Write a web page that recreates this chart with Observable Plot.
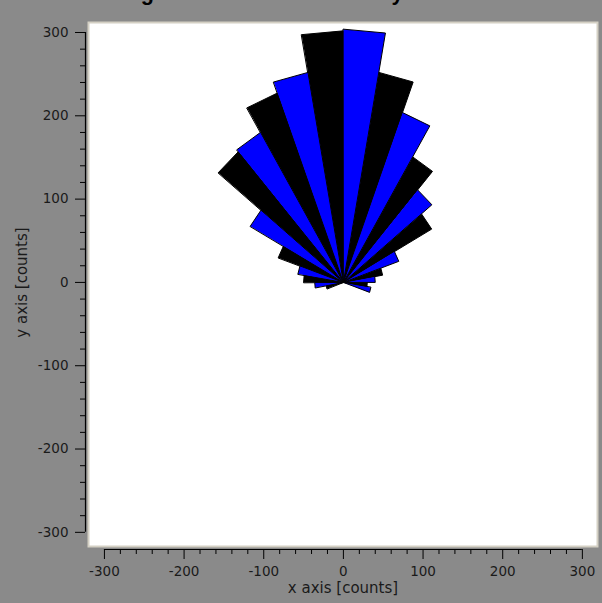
<!DOCTYPE html>
<html>
<head>
<meta charset="utf-8">
<script src="https://cdn.jsdelivr.net/npm/d3@7"></script>
<script src="https://cdn.jsdelivr.net/npm/@observablehq/plot@0.6"></script>
<style>
  html, body { margin: 0; padding: 0; background: #8a8a8a; }
  #wrap { position: relative; width: 602px; height: 603px; overflow: hidden; background: #8a8a8a; }
  #title { position: absolute; left: 112px; top: -18px; font: bold 21.6px "Liberation Sans", Arial, sans-serif; line-height: 22px; color: #000; white-space: nowrap; }
  #chart { position: absolute; left: 0; top: 0; }
</style>
</head>
<body>
<div id="wrap">
  <div id="chart"></div>
  <div id="title">Angle Distribution Summary</div>
</div>
<script>
// ---- data ----
const binStart = [-20, -10, 0, 10, 20, 30, 40, 50, 60, 70, 80, 90, 100, 110, 120, 130, 140, 150, 160, 170, 180, 190]; // degrees
const binWidth = 10;
const counts   = [35, 30, 40, 50, 74, 128, 145, 174, 217, 256, 304, 302, 256, 242, 208, 205, 135, 87, 58, 50, 36, 22];
const palette  = ["#0000ff", "#000000"];
const xMajor = [-300, -200, -100, 0, 100, 200, 300];
const yMajor = [-300, -200, -100, 0, 100, 200, 300];
const xMinor = d3.range(-300, 301, 20).filter(v => v % 100 !== 0);
const yMinor = d3.range(-300, 301, 20).filter(v => v % 100 !== 0);
const xDomain = [-320, 319];
const yDomain = [-317, 312];
const xLabel = "x axis [counts]";
const yLabel = "y axis [counts]";

// build wedge polygons (origin + two outer corners)
const rad = Math.PI / 180;
const wedges = [];
binStart.forEach((a, i) => {
  const r = counts[i];
  const a1 = a * rad, a2 = (a + binWidth) * rad;
  const pts = [[0, 0], [r * Math.cos(a1), r * Math.sin(a1)], [r * Math.cos(a2), r * Math.sin(a2)]];
  pts.forEach(([x, y]) => wedges.push({id: i, x, y}));
});
const blue = wedges.filter(d => d.id % 2 === 0);
const black = wedges.filter(d => d.id % 2 === 1);
const fmt = d => String(d);

const chart = Plot.plot({
  width: 602,
  height: 603,
  marginLeft: 88,
  marginRight: 5,
  marginTop: 22,
  marginBottom: 57,
  x: {domain: xDomain},
  y: {domain: yDomain},
  style: {background: "transparent", fontFamily: "DejaVu Sans, sans-serif", fontSize: "13.5px", color: "#1a1a1a"},
  marks: [
    Plot.frame({fill: "#ffffff", stroke: "#d4d0c4", strokeWidth: 2}),
    Plot.line(black, {x: "x", y: "y", z: "id", fill: palette[1], stroke: "#000", strokeWidth: 1, curve: "linear-closed"}),
    Plot.line(blue, {x: "x", y: "y", z: "id", fill: palette[0], stroke: "#000", strokeWidth: 1, curve: "linear-closed"}),
    // axis lines
    Plot.ruleY([yDomain[0]], {x1: xMajor[0], x2: xMajor[xMajor.length - 1], dy: 3, stroke: "#000", strokeWidth: 1.2}),
    Plot.ruleX([xDomain[0]], {y1: yMajor[0], y2: yMajor[yMajor.length - 1], dx: -3, stroke: "#000", strokeWidth: 1.2}),
    // ticks
    Plot.axisX({ticks: xMajor, anchor: "bottom", tickSize: 10, tickPadding: 7, dy: 3, label: null, stroke: "#000", tickFormat: fmt}),
    Plot.axisX({ticks: xMinor, anchor: "bottom", tickSize: 5, tickFormat: () => "", dy: 3, label: null, stroke: "#000"}),
    Plot.axisY({ticks: yMajor, anchor: "left", tickSize: 10, tickPadding: 7, dx: -3, label: null, stroke: "#000", tickFormat: fmt}),
    Plot.axisY({ticks: yMinor, anchor: "left", tickSize: 5, tickFormat: () => "", dx: -3, label: null, stroke: "#000"}),
    // axis titles
    Plot.text([xLabel], {frameAnchor: "bottom", dy: 46, fontSize: 15, fill: "#1a1a1a", textAnchor: "middle"}),
    Plot.text([yLabel], {frameAnchor: "left", dx: -66, dy: -2, rotate: -90, fontSize: 15, fill: "#1a1a1a", textAnchor: "middle"})
  ]
});
document.getElementById("chart").appendChild(chart);
</script>
</body>
</html>
